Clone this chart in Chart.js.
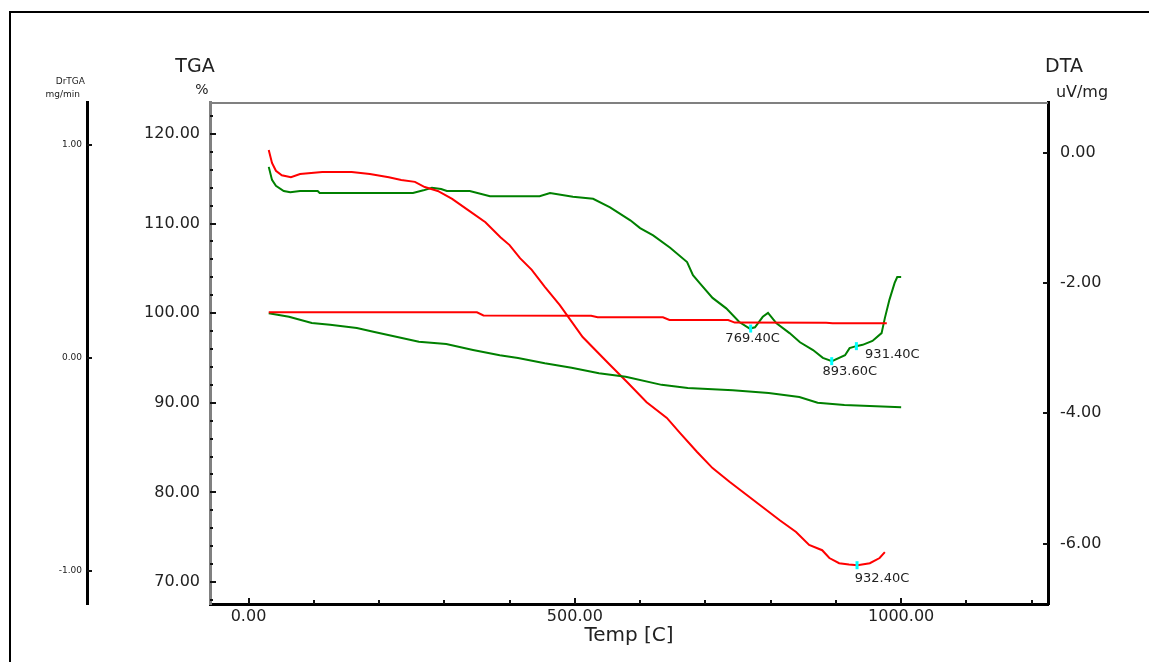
<!DOCTYPE html>
<html><head><meta charset="utf-8">
<script src="https://cdn.jsdelivr.net/npm/chart.js@4"></script>
<style>
html,body{margin:0;padding:0;background:#fff;}
#wrap{position:relative;width:1149px;height:662px;overflow:hidden;}
canvas{display:block;}
</style></head><body>
<div id="wrap"><canvas id="c" width="1149" height="662"></canvas></div>
<script>
// ---- tick values ----
const tempTicks = [0, 500, 1000];
const tgaTicks = [70, 80, 90, 100, 110, 120];
const dtaTicks = [0, -2, -4, -6];
const drtgaTicks = [1, 0, -1];

// ---- TGA (%) ----
const redTgaTemp = [31, 350, 360, 525, 535, 635, 645, 735, 745, 885, 895, 978];
const redTgaVal  = [100.1, 100.1, 99.75, 99.72, 99.55, 99.54, 99.25, 99.24, 98.95, 98.94, 98.88, 98.87];

const greenTgaTemp = [31, 62, 97, 125, 166, 193, 228, 261, 303, 344, 385, 413, 454, 495, 537, 578, 633, 673, 742, 797, 844, 872, 913, 1000];
const greenTgaVal  = [100.0, 99.6, 98.9, 98.7, 98.35, 97.9, 97.35, 96.8, 96.55, 95.9, 95.3, 95.0, 94.4, 93.9, 93.3, 92.9, 92.0, 91.65, 91.4, 91.1, 90.65, 90.0, 89.75, 89.5];

// ---- DTA (uV/mg) ----
const redDtaTemp = [31, 36, 42, 51, 65, 79, 113, 158, 186, 215, 234, 255, 270, 290, 312, 336, 363, 386, 400, 416, 434, 454, 477, 512, 554, 580, 610, 641, 661, 687, 711, 737, 763, 788, 814, 839, 859, 879, 890, 905, 920, 933, 952, 967, 975];
const redDtaVal  = [0.04, -0.16, -0.28, -0.35, -0.38, -0.33, -0.30, -0.30, -0.33, -0.38, -0.42, -0.45, -0.53, -0.59, -0.71, -0.88, -1.07, -1.30, -1.42, -1.62, -1.80, -2.06, -2.34, -2.83, -3.26, -3.52, -3.83, -4.07, -4.30, -4.59, -4.84, -5.05, -5.25, -5.44, -5.64, -5.82, -6.02, -6.10, -6.22, -6.30, -6.32, -6.33, -6.30, -6.22, -6.13];

const greenDtaTemp = [31, 36, 42, 54, 64, 79, 106, 109, 252, 268, 281, 295, 304, 339, 370, 446, 462, 497, 528, 554, 585, 600, 620, 646, 672, 681, 691, 711, 732, 752, 768, 776, 788, 796, 809, 829, 845, 865, 880, 894, 914, 921, 931, 941, 956, 970, 975, 982, 990, 994, 1000];
const greenDtaVal  = [-0.22, -0.42, -0.51, -0.59, -0.61, -0.59, -0.59, -0.62, -0.62, -0.58, -0.54, -0.56, -0.59, -0.59, -0.67, -0.67, -0.62, -0.68, -0.71, -0.84, -1.04, -1.16, -1.27, -1.46, -1.68, -1.88, -2.00, -2.23, -2.39, -2.60, -2.70, -2.68, -2.52, -2.46, -2.62, -2.77, -2.91, -3.03, -3.15, -3.20, -3.11, -3.00, -2.97, -2.95, -2.89, -2.77, -2.54, -2.26, -2.00, -1.91, -1.91];

// ---- peak annotations ----
const peakTemp = [769.4, 893.6, 931.4, 932.4];
const peakVal  = [-2.70, -3.20, -2.97, -6.33];
const peakText = ['769.40C', '893.60C', '931.40C', '932.40C'];

// ---- styles ----
const FONT = "'DejaVu Sans', 'Liberation Sans', sans-serif";
const TXT = '#222';
const labelOffsets = [[2, 10], [18, 10], [36, 8], [25, 13]];

const zip = (a, b) => a.map((v, i) => ({x: v, y: b[i]}));

const decor = {
  id: 'decor',
  beforeDraw(chart) {
    const c = chart.ctx;
    c.save();
    c.fillStyle = '#fff';
    c.fillRect(0, 0, chart.width, chart.height);
    c.restore();
  },
  afterDraw(chart) {
    const c = chart.ctx;
    const {x, tga, dta, drtga} = chart.scales;
    const area = chart.chartArea;
    c.save();
    // frame
    c.strokeStyle = '#000'; c.lineWidth = 2;
    c.beginPath(); c.moveTo(1149, 12); c.lineTo(10, 12); c.lineTo(10, 662); c.stroke();
    // top of plot box
    c.strokeStyle = '#808080'; c.lineWidth = 2;
    c.beginPath(); c.moveTo(area.left, area.top + 1); c.lineTo(area.right, area.top + 1); c.stroke();
    // ticks
    c.strokeStyle = '#111'; c.lineWidth = 2;
    c.beginPath();
    for (let t = 0; t <= 1200; t += 100) {
      const px = Math.round(x.getPixelForValue(t));
      const len = (t % 500 === 0) ? 6 : 4;
      c.moveTo(px, area.bottom); c.lineTo(px, area.bottom - len);
    }
    for (let v = 68; v <= 122; v += 2) {
      const py = Math.round(tga.getPixelForValue(v));
      const len = (v % 10 === 0) ? 6 : 3;
      c.moveTo(tga.right, py); c.lineTo(tga.right + len, py);
    }
    drtgaTicks.forEach(v => {
      const py = Math.round(drtga.getPixelForValue(v));
      c.moveTo(drtga.right, py); c.lineTo(drtga.right + 5, py);
    });
    dtaTicks.forEach(v => {
      const py = Math.round(dta.getPixelForValue(v));
      c.moveTo(dta.left, py); c.lineTo(dta.left - 5, py);
    });
    c.stroke();
    // axis headers
    c.fillStyle = TXT;
    c.textBaseline = 'middle';
    c.textAlign = 'center';
    c.font = '19px ' + FONT; c.fillText('TGA', tga.right - 15, 67);
    c.font = '14px ' + FONT; c.fillText('%', tga.right - 8, 90);
    c.font = '19px ' + FONT; c.fillText('DTA', dta.left + 16, 67);
    c.font = '16px ' + FONT; c.fillText('uV/mg', dta.left + 34, 93);
    c.font = '9px ' + FONT; c.textAlign = 'right';
    c.fillText('DrTGA', drtga.right - 2, 82);
    c.fillText('mg/min', drtga.right - 7, 95);
    // peak labels
    c.font = '13px ' + FONT; c.textAlign = 'center';
    peakTemp.forEach((t, i) => {
      const px = x.getPixelForValue(t), py = dta.getPixelForValue(peakVal[i]);
      c.fillText(peakText[i], px + labelOffsets[i][0], py + labelOffsets[i][1]);
    });
    c.restore();
  }
};

const lineDs = (data, axis, color) => ({
  data, yAxisID: axis, borderColor: color, backgroundColor: color,
  borderWidth: 2, pointRadius: 0, tension: 0, fill: false, order: 1
});

new Chart(document.getElementById('c'), {
  type: 'line',
  data: {
    datasets: [
      lineDs(zip(redTgaTemp, redTgaVal), 'tga', '#ff0000'),
      lineDs(zip(greenTgaTemp, greenTgaVal), 'tga', '#008000'),
      lineDs(zip(redDtaTemp, redDtaVal), 'dta', '#ff0000'),
      lineDs(zip(greenDtaTemp, greenDtaVal), 'dta', '#008000'),
      {
        type: 'scatter', data: zip(peakTemp, peakVal), yAxisID: 'dta', order: 0,
        pointStyle: 'line', rotation: 90, pointRadius: 4,
        borderColor: '#00ffff', backgroundColor: '#00ffff', borderWidth: 3, showLine: false
      }
    ]
  },
  options: {
    responsive: false, animation: false, devicePixelRatio: 1,
    layout: {padding: {top: 102, left: 0, right: 0, bottom: 0}},
    plugins: {legend: {display: false}, tooltip: {enabled: false}},
    scales: {
      x: {
        type: 'linear', position: 'bottom', min: -59, max: 1225,
        afterBuildTicks: s => { s.ticks = tempTicks.map(v => ({value: v})); },
        afterFit: s => { s.height = 58; },
        ticks: {callback: v => Number(v).toFixed(2), font: {family: FONT, size: 16}, color: TXT, padding: 3, maxRotation: 0, autoSkip: false},
        grid: {display: false, drawTicks: false},
        border: {display: true, color: '#000', width: 3},
        title: {display: true, text: 'Temp [C]', font: {family: FONT, size: 20}, color: TXT, padding: {top: 0, bottom: 14}}
      },
      drtga: {
        type: 'linear', position: 'left', weight: 10, min: -1.155, max: 1.202,
        afterBuildTicks: s => { s.ticks = drtgaTicks.map(v => ({value: v})); },
        afterFit: s => { s.width = 87; },
        ticks: {callback: v => Number(v).toFixed(2), font: {family: FONT, size: 9}, color: TXT, padding: 5, autoSkip: false},
        grid: {display: false, drawTicks: false},
        border: {display: true, color: '#000', width: 3}
      },
      tga: {
        type: 'linear', position: 'left', weight: 0, min: 67.54, max: 123.57,
        afterBuildTicks: s => { s.ticks = tgaTicks.map(v => ({value: v})); },
        afterFit: s => { s.width = 123; },
        ticks: {callback: v => Number(v).toFixed(2), font: {family: FONT, size: 16}, color: TXT, padding: 10, autoSkip: false},
        grid: {display: false, drawTicks: false},
        border: {display: true, color: '#808080', width: 3}
      },
      dta: {
        type: 'linear', position: 'right', min: -6.925, max: 0.775,
        afterBuildTicks: s => { s.ticks = dtaTicks.map(v => ({value: v})); },
        afterFit: s => { s.width = 101; },
        ticks: {callback: v => Number(v).toFixed(2), font: {family: FONT, size: 16}, color: TXT, padding: 12, autoSkip: false},
        grid: {display: false, drawTicks: false},
        border: {display: true, color: '#000', width: 3}
      }
    }
  },
  plugins: [decor]
});
</script>
</body></html>
